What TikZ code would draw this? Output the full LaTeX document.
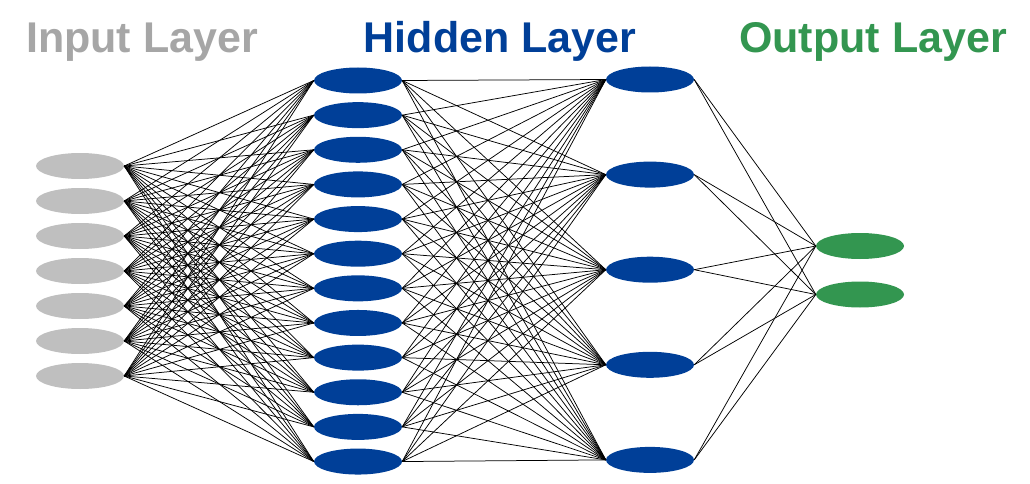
\documentclass[tikz,border=0pt]{standalone}
\usepackage{fontspec}
\setmainfont{Liberation Sans}
\usetikzlibrary{shapes.geometric}
\definecolor{ingray}{HTML}{BFBFBF}
\definecolor{titlegray}{HTML}{A6A6A6}
\definecolor{hidblue}{HTML}{003F98}
\definecolor{outgreen}{HTML}{339650}
\begin{document}
\begin{tikzpicture}[x=1pt,y=-1pt,
  neuron/.style={ellipse,draw=none,minimum width=88pt,minimum height=26pt,inner sep=0pt},
  inneuron/.style={neuron,fill=ingray},
  hidneuron/.style={neuron,fill=hidblue},
  outneuron/.style={neuron,fill=outgreen},
  link/.style={draw=black,line width=0.75pt},
  title/.style={font=\fontsize{43}{50}\selectfont\bfseries,anchor=base,inner sep=0pt}]
\useasboundingbox (0,0) rectangle (1030,484);
% layer titles
\node[title,text=titlegray] (tin) at (142,53) {Input Layer};
\node[title,text=hidblue] (thid) at (500,53) {Hidden Layer};
\node[title,text=outgreen] (tout) at (873,53) {Output Layer};
% neurons
\foreach \k in {1,...,7}
  \node[inneuron] (i\k) at (80,{166+35*(\k-1)}) {};
\foreach \k in {1,...,12}
  \node[hidneuron] (h\k) at (358,{80.5+34.64*(\k-1)}) {};
\foreach \k in {1,...,5}
  \node[hidneuron] (g\k) at (650,{79.5+95.1*(\k-1)}) {};
\node[outneuron] (o1) at (860,246) {};
\node[outneuron] (o2) at (860,294.5) {};
% full connections between consecutive layers
\foreach \a in {1,...,7}
  \foreach \b in {1,...,12}
    \draw[link] (i\a.east) -- (h\b.west);
\foreach \a in {1,...,12}
  \foreach \b in {1,...,5}
    \draw[link] (h\a.east) -- (g\b.west);
\foreach \a in {1,...,5}
  \foreach \b in {1,2}
    \draw[link] (g\a.east) -- (o\b.west);
\end{tikzpicture}
\end{document}
